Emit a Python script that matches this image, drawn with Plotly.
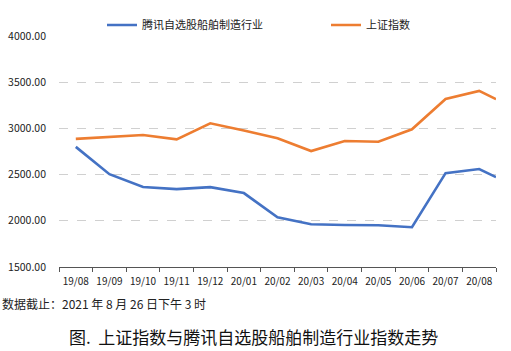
import plotly.graph_objects as go

months = ["19/08", "19/09", "19/10", "19/11", "19/12", "20/01", "20/02",
          "20/03", "20/04", "20/05", "20/06", "20/07", "20/08"]
# 14 observations: one per month plus the latest value at the right edge
x_pos = [0, 1, 2, 3, 4, 5, 6, 7, 8, 9, 10, 11, 12, 12.5]
tencent_ship = [2800, 2505, 2365, 2343, 2364, 2300, 2039, 1963, 1955, 1952, 1930, 2516, 2560, 2473]
sse_index = [2887, 2910, 2928, 2882, 3055, 2978, 2893, 2755, 2863, 2856, 2990, 3319, 3406, 3316]
yticks = [1500, 2000, 2500, 3000, 3500, 4000]

FONT = "Noto Sans CJK SC, Noto Sans, sans-serif"

fig = go.Figure()
fig.add_trace(go.Scatter(x=x_pos, y=tencent_ship, mode="lines", name="腾讯自选股船舶制造行业",
                         line=dict(color="#4472C4", width=2.6), legend="legend"))
fig.add_trace(go.Scatter(x=x_pos, y=sse_index, mode="lines", name="上证指数",
                         line=dict(color="#ED7D31", width=2.6), legend="legend2"))

leg_common = dict(orientation="h", xref="container", yref="container", xanchor="left",
                  yanchor="middle", y=1 - 25/351, font=dict(size=11, color="#222"),
                  bgcolor="rgba(0,0,0,0)", borderwidth=0)

fig.update_layout(
    width=511, height=351,
    margin=dict(l=59, r=15, t=36, b=84, autoexpand=False),
    paper_bgcolor="white", plot_bgcolor="white",
    font=dict(family=FONT, size=10, color="#222"),
    showlegend=True,
    legend=dict(x=102/511, **leg_common),
    legend2=dict(x=326/511, **leg_common),
    xaxis=dict(range=[-0.5, 12.5], tickmode="array",
               tickvals=list(range(len(months))), ticktext=months,
               ticks="", showline=True, linecolor="#555", linewidth=1,
               minor=dict(tickmode="array", tickvals=[i - 0.5 for i in range(len(months) + 1)],
                          ticks="outside", ticklen=4, tickcolor="#555", tickwidth=1, showgrid=False),
               showgrid=False, zeroline=False, ticklabelstandoff=5,
               tickfont=dict(size=10, color="#222")),
    yaxis=dict(range=[1500, 4000], tickmode="array", tickvals=yticks,
               ticktext=[f"{v:.2f}" for v in yticks],
               showgrid=True, gridcolor="#d0d0d0", griddash="dash", gridwidth=1,
               zeroline=False, showline=False, ticks="", ticklabelstandoff=12,
               tickfont=dict(size=10.5, color="#222")),
)

fig.add_annotation(text="数据截止：2021 年 8 月 26 日下午 3 时", xref="paper", yref="paper",
                   x=-59/437, y=-36/231, xanchor="left", yanchor="middle", showarrow=False,
                   font=dict(size=12, color="#222"))
fig.add_annotation(text="图.\u00a0\u00a0上证指数与腾讯自选股船舶制造行业指数走势", xref="paper", yref="paper",
                   x=(253-59)/437, y=-83/231, xanchor="center", yanchor="bottom", showarrow=False,
                   borderpad=0, font=dict(size=17, color="#111"))

fig.write_html("out.html")
